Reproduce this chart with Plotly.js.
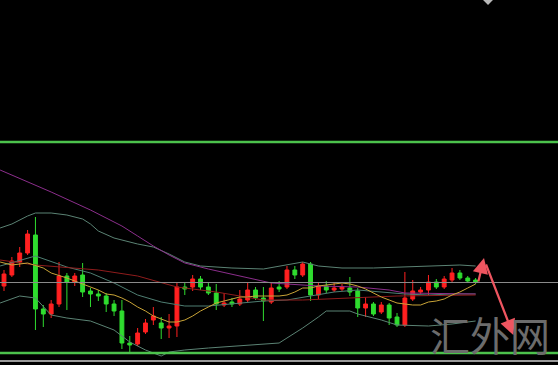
<!DOCTYPE html>
<html>
<head>
<meta charset="utf-8">
<script src="https://cdn.plot.ly/plotly-3.0.1.min.js"></script>
<style>
  html, body { margin: 0; padding: 0; background: #000; }
  #chart { width: 558px; height: 365px; }
</style>
</head>
<body>
<div id="chart"></div>
<script>
// Daily bars, index 0..60
const bar = Array.from({length: 61}, (_, i) => i);
const open  = [1714,1725,1738,1747,1765,1691,1686,1696,1724,1718,1725,1709,1706,1704,1696,1689,1657,1656,1668,1680,1677,1672,1674,1713,1713,1721,1713,1707,1695,1698,1696,1700,1710,1702,1698,1713,1713,1730,1725,1736,1705,1714,1710,1711,1712,1709,1692,1696,1688,1695,1683,1675,1701,1708,1710,1718,1713,1720,1727,1722,1720];
const high  = [1730,1743,1753,1770,1783,1695,1700,1738,1727,1727,1737,1712,1710,1707,1700,1700,1664,1672,1681,1693,1683,1686,1717,1718,1725,1724,1717,1716,1707,1702,1710,1717,1713,1713,1717,1719,1734,1734,1738,1738,1718,1719,1717,1716,1723,1712,1703,1698,1698,1697,1687,1728,1720,1713,1725,1721,1724,1732,1730,1724,1722];
const low   = [1709,1723,1733,1745,1670,1673,1682,1693,1690,1714,1703,1693,1699,1688,1684,1651,1648,1654,1666,1675,1661,1662,1663,1705,1709,1710,1705,1690,1693,1693,1694,1698,1700,1679,1696,1708,1711,1721,1723,1699,1701,1707,1708,1709,1704,1683,1683,1684,1686,1675,1673,1673,1699,1706,1705,1711,1711,1717,1720,1718,1716];
const close = [1726,1739,1747,1766,1691,1686,1696,1724,1718,1724,1708,1706,1704,1696,1689,1657,1655,1667,1677,1684,1672,1674,1713,1711,1721,1713,1707,1696,1697,1696,1701,1710,1702,1699,1712,1711,1730,1725,1736,1705,1714,1710,1712,1713,1708,1692,1696,1686,1695,1682,1675,1702,1709,1710,1718,1713,1721,1727,1722,1719,1718];

// Bollinger bands (upper / middle / lower)
const bbUpperX = [-0.5,1,3,4,6,8,10,11,12,14,17,19,21,23,25,29,33,35,37,38,40,43,47,51,55,58,60];
const bbUpper  = [1772,1776,1784,1787,1787,1785,1781,1776,1769,1762,1756,1753,1746,1738,1734,1732,1731,1734,1737,1738,1734,1732,1732,1733,1734,1735,1734];
const bbMidX   = [-0.5,4,8,11,14,17,20,23,26,30,33,36,39,42,45,48,51,54,57,60];
const bbMid    = [1734,1744,1733,1727,1717,1705,1698,1694,1694,1697,1699,1700,1704,1708,1710,1708,1706,1705,1706,1706];
const bbLowerX = [-0.5,2,4,6,8,11,14,16,18,20,21,23,26,31,33,35,36,38,40,41,44,45,48,50,54,57,60];
const bbLower  = [1697,1704,1702,1685,1682,1679,1670,1658,1650,1644,1648,1650,1652,1655,1656,1657,1662,1672,1683,1689,1689,1686,1680,1675,1674,1676,1679];

// Moving averages: fast (yellow), medium (dark red), slow (purple)
const maFastX = [-0.5,1,3,5,6,8,10,11,12,13,14,15,16,17,18,19,20,21,22,23,24,25,26,27,28,29,30,31,32,33,34,35,36,37,38,39,40,41,42,43,44,45,46,47,48,49,50,51,52,53,54,55,56,57,58,59,60];
const maFast  = [1738,1735,1737,1732,1727,1722,1716,1713,1710,1706,1705,1702,1698,1693,1689,1684,1681,1678,1678,1680,1684,1689,1693,1697,1699,1701,1703,1703,1704,1704,1704,1704,1705,1708,1712,1712,1714,1715,1716,1717,1716,1714,1711,1707,1703,1700,1697,1696,1695,1695,1698,1699,1701,1705,1708,1712,1716];
const maMidX  = [-0.5,4,12,17,22,27,33,38,44,50,60];
const maMid   = [1740,1735,1730,1724,1713,1708,1700,1700,1702,1704,1705];
const maSlowX = [-0.5,6,11,12,15,17,19,21,23,26,30,34,40,45,49,51,60];
const maSlow  = [1830,1808,1790,1786,1774,1764,1754,1745,1737,1731,1724,1717,1714,1713,1710,1707,1706];

// Horizontal levels and the projected move
const levels = [1858, 1647];
const moveX = [60.3, 61.07, 61.25, 64.8];
const moveY = [1717, 1742, 1737, 1665];

const xRange = [-0.51, 70.48];
const yRange = [1635, 2000];

const line = (x, y, color, width) => ({
  type: 'scatter', mode: 'lines', x, y,
  line: { color, width: width || 1 }, hoverinfo: 'skip'
});

const traces = [
  line(bbUpperX, bbUpper, '#5b8374'),
  line(bbMidX, bbMid, '#4f7f73'),
  line(bbLowerX, bbLower, '#5b8374'),
  line(maSlowX, maSlow, '#8c2e8c'),
  line(maMidX, maMid, '#8f1c1c'),
  line(maFastX, maFast, '#c9a437'),
  {
    type: 'candlestick', x: bar, open, high, low, close,
    increasing: { line: { color: '#ff2020', width: 1 }, fillcolor: '#ff2020' },
    decreasing: { line: { color: '#2fdc2f', width: 1 }, fillcolor: '#2fdc2f' },
    whiskerwidth: 0, hoverinfo: 'skip'
  }
];

const lastClose = close[close.length - 1];

const shapes = [
  // current price
  { type: 'line', xref: 'paper', x0: 0, x1: 1, y0: lastClose - 0.5, y1: lastClose - 0.5,
    line: { color: '#8a8a8a', width: 1 } },
  // chart bottom border
  { type: 'line', xref: 'paper', x0: 0, x1: 1, y0: 1639, y1: 1639,
    line: { color: '#9a9a9a', width: 2 } },
  // shift marker
  { type: 'path', path: 'M 60.95 2000 L 62.2 2000 L 61.58 1995 Z',
    fillcolor: '#b8b8b8', line: { width: 0 } }
].concat(levels.map(v => ({
  type: 'line', xref: 'paper', x0: 0, x1: 1, y0: v, y1: v,
  line: { color: '#4cc24c', width: 2.5 }
})));

const arrow = (i) => ({
  x: moveX[i + 1], y: moveY[i + 1], ax: moveX[i], ay: moveY[i],
  xref: 'x', yref: 'y', axref: 'x', ayref: 'y',
  showarrow: true, arrowhead: 2, arrowsize: 1.4, arrowwidth: 2.2,
  arrowcolor: '#ee5560', text: ''
});

const annotations = [
  arrow(0), arrow(2),
  { text: '汇外网', xref: 'paper', yref: 'paper', x: 0.878, y: 0.086,
    xanchor: 'center', yanchor: 'middle',
    showarrow: false, font: { family: 'Noto Sans CJK SC', size: 40, color: '#6c6c6c' } }
];

const layout = {
  width: 558, height: 365,
  margin: { l: 0, r: 0, t: 0, b: 0 },
  paper_bgcolor: '#000', plot_bgcolor: '#000',
  showlegend: false,
  xaxis: { range: xRange, visible: false, rangeslider: { visible: false }, fixedrange: true },
  yaxis: { range: yRange, visible: false, fixedrange: true },
  shapes, annotations
};

Plotly.newPlot('chart', traces, layout, { staticPlot: true, displayModeBar: false });
</script>
</body>
</html>
